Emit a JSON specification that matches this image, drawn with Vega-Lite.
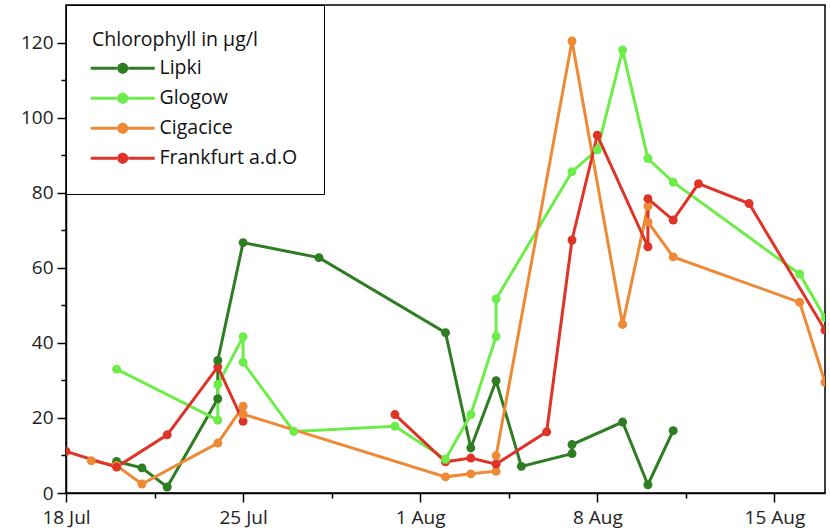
{
  "$schema": "https://vega.github.io/schema/vega-lite/v6.json",
  "width": 759,
  "height": 488,
  "autosize": {"type": "none"},
  "padding": {"left": 66, "top": 5, "right": 5, "bottom": 39},
  "background": "white",
  "config": {
    "view": {"stroke": "black", "strokeWidth": 1.5},
    "axis": {
      "grid": false,
      "domainColor": "black",
      "domainWidth": 1.5,
      "tickColor": "black",
      "tickWidth": 1.5,
      "labelFont": "Open Sans",
      "labelFontSize": 19,
      "labelColor": "#222",
      "title": null
    }
  },
  "data": {
    "values": [
      {"station": "Lipki", "part": "a", "seq": 1, "date": "2019-07-20", "value": 8.4},
      {"station": "Lipki", "part": "a", "seq": 2, "date": "2019-07-21", "value": 6.7},
      {"station": "Lipki", "part": "a", "seq": 3, "date": "2019-07-22", "value": 1.6},
      {"station": "Lipki", "part": "a", "seq": 4, "date": "2019-07-24", "value": 25.1},
      {"station": "Lipki", "part": "a", "seq": 5, "date": "2019-07-24", "value": 35.3},
      {"station": "Lipki", "part": "a", "seq": 6, "date": "2019-07-25", "value": 66.7},
      {"station": "Lipki", "part": "a", "seq": 7, "date": "2019-07-28", "value": 62.7},
      {"station": "Lipki", "part": "a", "seq": 8, "date": "2019-08-02", "value": 42.7},
      {"station": "Lipki", "part": "a", "seq": 9, "date": "2019-08-03", "value": 12.0},
      {"station": "Lipki", "part": "a", "seq": 10, "date": "2019-08-04", "value": 29.9},
      {"station": "Lipki", "part": "a", "seq": 11, "date": "2019-08-05", "value": 7.1},
      {"station": "Lipki", "part": "a", "seq": 12, "date": "2019-08-07", "value": 10.5},
      {"station": "Lipki", "part": "a", "seq": 13, "date": "2019-08-07", "value": 12.9},
      {"station": "Lipki", "part": "a", "seq": 14, "date": "2019-08-09", "value": 18.9},
      {"station": "Lipki", "part": "a", "seq": 15, "date": "2019-08-10", "value": 2.2},
      {"station": "Lipki", "part": "a", "seq": 16, "date": "2019-08-11", "value": 16.6},

      {"station": "Glogow", "part": "a", "seq": 1, "date": "2019-07-20", "value": 33.0},
      {"station": "Glogow", "part": "a", "seq": 2, "date": "2019-07-24", "value": 19.4},
      {"station": "Glogow", "part": "a", "seq": 3, "date": "2019-07-24", "value": 28.9},
      {"station": "Glogow", "part": "a", "seq": 4, "date": "2019-07-25", "value": 41.6},
      {"station": "Glogow", "part": "a", "seq": 5, "date": "2019-07-25", "value": 34.8},
      {"station": "Glogow", "part": "a", "seq": 6, "date": "2019-07-27", "value": 16.4},
      {"station": "Glogow", "part": "a", "seq": 7, "date": "2019-07-31", "value": 17.8},
      {"station": "Glogow", "part": "a", "seq": 8, "date": "2019-08-02", "value": 9.0},
      {"station": "Glogow", "part": "a", "seq": 9, "date": "2019-08-03", "value": 20.9},
      {"station": "Glogow", "part": "a", "seq": 10, "date": "2019-08-04", "value": 41.7},
      {"station": "Glogow", "part": "a", "seq": 11, "date": "2019-08-04", "value": 51.7},
      {"station": "Glogow", "part": "a", "seq": 12, "date": "2019-08-07", "value": 85.6},
      {"station": "Glogow", "part": "a", "seq": 13, "date": "2019-08-08", "value": 91.4},
      {"station": "Glogow", "part": "a", "seq": 14, "date": "2019-08-09", "value": 118.0},
      {"station": "Glogow", "part": "a", "seq": 15, "date": "2019-08-10", "value": 89.1},
      {"station": "Glogow", "part": "a", "seq": 16, "date": "2019-08-11", "value": 82.8},
      {"station": "Glogow", "part": "a", "seq": 17, "date": "2019-08-16", "value": 58.3},
      {"station": "Glogow", "part": "a", "seq": 18, "date": "2019-08-17", "value": 46.7},

      {"station": "Cigacice", "part": "a", "seq": 1, "date": "2019-07-19", "value": 8.6},
      {"station": "Cigacice", "part": "a", "seq": 2, "date": "2019-07-20", "value": 7.3},
      {"station": "Cigacice", "part": "a", "seq": 3, "date": "2019-07-21", "value": 2.4},
      {"station": "Cigacice", "part": "a", "seq": 4, "date": "2019-07-24", "value": 13.3},
      {"station": "Cigacice", "part": "a", "seq": 5, "date": "2019-07-25", "value": 23.1},
      {"station": "Cigacice", "part": "a", "seq": 6, "date": "2019-07-25", "value": 21.0},
      {"station": "Cigacice", "part": "a", "seq": 7, "date": "2019-08-02", "value": 4.3},
      {"station": "Cigacice", "part": "a", "seq": 8, "date": "2019-08-03", "value": 5.1},
      {"station": "Cigacice", "part": "a", "seq": 9, "date": "2019-08-04", "value": 5.8},
      {"station": "Cigacice", "part": "a", "seq": 10, "date": "2019-08-04", "value": 9.9},
      {"station": "Cigacice", "part": "a", "seq": 11, "date": "2019-08-07", "value": 120.4},
      {"station": "Cigacice", "part": "a", "seq": 12, "date": "2019-08-09", "value": 44.9},
      {"station": "Cigacice", "part": "a", "seq": 13, "date": "2019-08-10", "value": 76.4},
      {"station": "Cigacice", "part": "a", "seq": 14, "date": "2019-08-10", "value": 72.2},
      {"station": "Cigacice", "part": "a", "seq": 15, "date": "2019-08-11", "value": 62.9},
      {"station": "Cigacice", "part": "a", "seq": 16, "date": "2019-08-16", "value": 50.8},
      {"station": "Cigacice", "part": "a", "seq": 17, "date": "2019-08-17", "value": 29.5},

      {"station": "Frankfurt a.d.O", "part": "a", "seq": 1, "date": "2019-07-18", "value": 11.1},
      {"station": "Frankfurt a.d.O", "part": "a", "seq": 2, "date": "2019-07-20", "value": 6.9},
      {"station": "Frankfurt a.d.O", "part": "a", "seq": 3, "date": "2019-07-22", "value": 15.5},
      {"station": "Frankfurt a.d.O", "part": "a", "seq": 4, "date": "2019-07-24", "value": 33.6},
      {"station": "Frankfurt a.d.O", "part": "a", "seq": 5, "date": "2019-07-25", "value": 19.1},
      {"station": "Frankfurt a.d.O", "part": "b", "seq": 6, "date": "2019-07-31", "value": 20.9},
      {"station": "Frankfurt a.d.O", "part": "b", "seq": 7, "date": "2019-08-02", "value": 8.3},
      {"station": "Frankfurt a.d.O", "part": "b", "seq": 8, "date": "2019-08-03", "value": 9.3},
      {"station": "Frankfurt a.d.O", "part": "b", "seq": 9, "date": "2019-08-04", "value": 7.7},
      {"station": "Frankfurt a.d.O", "part": "b", "seq": 10, "date": "2019-08-06", "value": 16.3},
      {"station": "Frankfurt a.d.O", "part": "b", "seq": 11, "date": "2019-08-07", "value": 67.4},
      {"station": "Frankfurt a.d.O", "part": "b", "seq": 12, "date": "2019-08-08", "value": 95.3},
      {"station": "Frankfurt a.d.O", "part": "b", "seq": 13, "date": "2019-08-10", "value": 65.6},
      {"station": "Frankfurt a.d.O", "part": "b", "seq": 14, "date": "2019-08-10", "value": 78.4},
      {"station": "Frankfurt a.d.O", "part": "b", "seq": 15, "date": "2019-08-11", "value": 72.7},
      {"station": "Frankfurt a.d.O", "part": "b", "seq": 16, "date": "2019-08-12", "value": 82.4},
      {"station": "Frankfurt a.d.O", "part": "b", "seq": 17, "date": "2019-08-14", "value": 77.1},
      {"station": "Frankfurt a.d.O", "part": "b", "seq": 18, "date": "2019-08-17", "value": 43.4}
    ]
  },
  "encoding": {
    "x": {
      "field": "date",
      "type": "temporal",
      "scale": {
        "type": "utc",
        "nice": false,
        "domain": [
          {"year": 2019, "month": 7, "date": 18, "utc": true},
          {"year": 2019, "month": 8, "date": 17, "utc": true}
        ]
      },
      "axis": {
        "values": [
          {"year": 2019, "month": 7, "date": 18, "utc": true},
          {"year": 2019, "month": 7, "date": 21, "hours": 12, "utc": true},
          {"year": 2019, "month": 7, "date": 25, "utc": true},
          {"year": 2019, "month": 7, "date": 28, "hours": 12, "utc": true},
          {"year": 2019, "month": 8, "date": 1, "utc": true},
          {"year": 2019, "month": 8, "date": 4, "hours": 12, "utc": true},
          {"year": 2019, "month": 8, "date": 8, "utc": true},
          {"year": 2019, "month": 8, "date": 11, "hours": 12, "utc": true},
          {"year": 2019, "month": 8, "date": 15, "utc": true}
        ],
        "labelExpr": "utchours(datum.value) == 0 ? utcFormat(datum.value, '%-d %b') : ''",
        "tickSize": {"condition": {"test": "utchours(datum.value) == 0", "value": 9}, "value": 5},
        "labelPadding": 6,
        "labelFlush": false,
        "labelOverlap": false
      }
    },
    "y": {
      "field": "value",
      "type": "quantitative",
      "scale": {"domain": [0, 130], "nice": false, "zero": true},
      "axis": {
        "values": [0, 10, 20, 30, 40, 50, 60, 70, 80, 90, 100, 110, 120],
        "labelExpr": "datum.value % 20 == 0 ? datum.label : ''",
        "tickSize": {"condition": {"test": "datum.value % 20 == 0", "value": 9}, "value": 5},
        "labelPadding": 4,
        "labelOverlap": false
      }
    },
    "color": {
      "field": "station",
      "type": "nominal",
      "scale": {
        "domain": ["Lipki", "Glogow", "Cigacice", "Frankfurt a.d.O"],
        "range": ["#2e7d22", "#6ded4a", "#ee8a35", "#e03328"]
      },
      "legend": {
        "title": "Chlorophyll in µg/l",
        "orient": "none",
        "legendX": 0,
        "legendY": 0,
        "padding": 26,
        "strokeColor": "black",
        "fillColor": "white",
        "titleFont": "Open Sans",
        "titleFontSize": 19.5,
        "titleFontWeight": "normal",
        "titleColor": "#111",
        "titlePadding": 8,
        "labelFont": "Open Sans",
        "labelFontSize": 19.5,
        "labelColor": "#111",
        "labelOffset": 48,
        "rowPadding": 9,
        "symbolType": "M-2.2,-0.3H3.15V0.3H-2.2Z M5.25,-0.3H10.6V0.3H5.25Z M3.1,0A1.1,1.1 0 1,0 5.3,0A1.1,1.1 0 1,0 3.1,0Z",
        "symbolSize": 100,
        "symbolStrokeWidth": 0,
        "encode": {
          "symbols": {
            "update": {
              "fill": {"scale": "color", "field": "value"},
              "stroke": {"value": "transparent"},
              "opacity": {"value": 1}
            }
          }
        }
      }
    },
    "detail": {"field": "part"},
    "order": {"field": "seq", "type": "quantitative"}
  },
  "layer": [
    {"mark": {"type": "line", "strokeWidth": 3, "clip": true}},
    {"mark": {"type": "point", "filled": true, "size": 80, "opacity": 1, "clip": true}}
  ]
}
